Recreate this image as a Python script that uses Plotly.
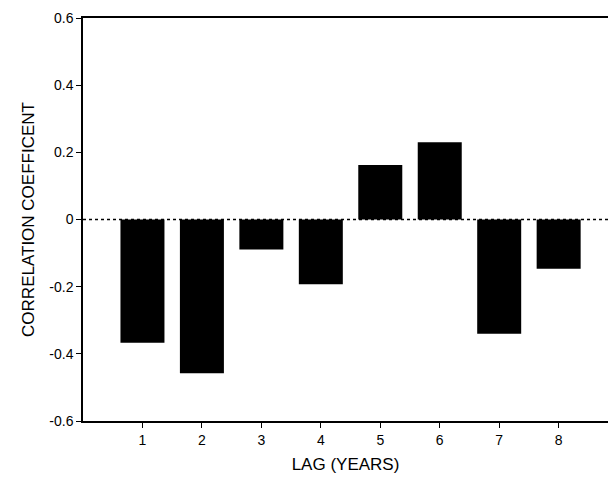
import plotly.graph_objects as go

lags = [1, 2, 3, 4, 5, 6, 7, 8]
corr = [-0.367, -0.458, -0.089, -0.193, 0.162, 0.230, -0.340, -0.147]
y_ticks = [-0.6, -0.4, -0.2, 0, 0.2, 0.4, 0.6]
y_tick_labels = ["-0.6", "-0.4", "-0.2", "0", "0.2", "0.4", "0.6"]
x_ticks = [1, 2, 3, 4, 5, 6, 7, 8]

fig = go.Figure()
fig.add_trace(go.Bar(x=lags, y=corr, width=0.74,
                     marker=dict(color="black", line=dict(width=0))))

fig.add_shape(type="line", xref="paper", x0=0, x1=1, yref="y", y0=0, y1=0,
              line=dict(color="black", width=1.5, dash="dot"), layer="below")

font = "Liberation Sans, Arial, sans-serif"
fig.update_layout(
    width=608, height=479,
    margin=dict(l=83, r=0, t=18, b=58),
    plot_bgcolor="white", paper_bgcolor="white",
    showlegend=False,
    font=dict(family=font, color="black", size=14),
    xaxis=dict(range=[0, 8.83], tickvals=x_ticks, ticktext=[str(v) for v in x_ticks],
               showline=True, mirror=True, linecolor="black", linewidth=1.5,
               ticks="outside", ticklen=5, tickcolor="black", showgrid=False, zeroline=False,
               title=dict(text="LAG (YEARS)", font=dict(size=17), standoff=12),
               tickfont=dict(size=14)),
    yaxis=dict(range=[-0.6, 0.6], tickvals=y_ticks, ticktext=y_tick_labels,
               showline=True, mirror=False, linecolor="black", linewidth=1.5,
               ticks="outside", ticklen=5, tickcolor="black", showgrid=False, zeroline=False,
               title=dict(text="CORRELATION COEFFICENT", font=dict(size=17), standoff=10),
               tickfont=dict(size=14)),
)

fig.write_html("out.html")
